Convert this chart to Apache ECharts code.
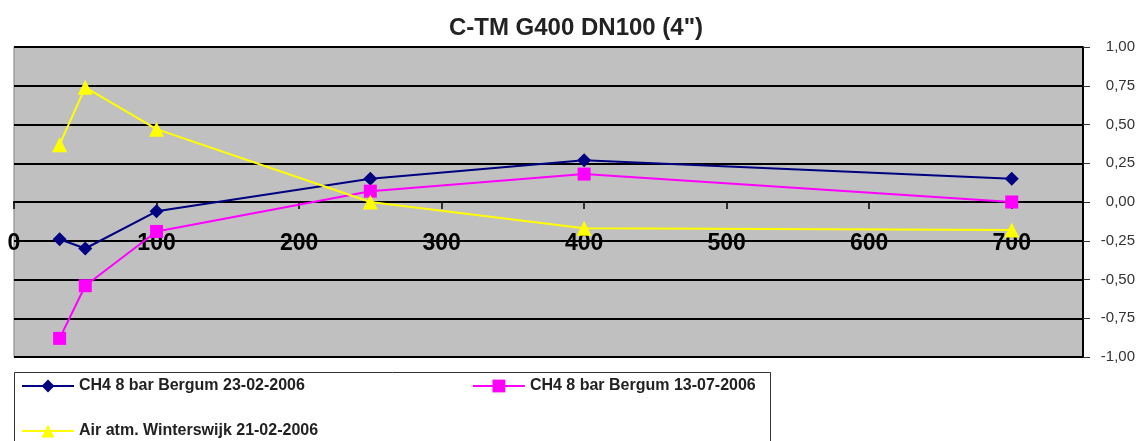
<!DOCTYPE html>
<html>
<head>
<meta charset="utf-8">
<script src="https://cdn.jsdelivr.net/npm/echarts@6/dist/echarts.min.js"></script>
<style>
html,body{margin:0;padding:0;background:#fff;}
#c{width:1140px;height:441px;}
</style>
</head>
<body>
<div id="c"></div>
<script>
const titleText = 'C-TM G400 DN100 (4")';
const flows = [32, 50, 100, 250, 400, 700];
const seriesNames = ['CH4 8 bar Bergum 23-02-2006', 'CH4 8 bar Bergum 13-07-2006', 'Air atm. Winterswijk 21-02-2006'];
const bergumFeb = [-0.24, -0.30, -0.06, 0.15, 0.27, 0.15];
const bergumJul = [-0.88, -0.54, -0.19, 0.07, 0.18, 0.00];
const winterswijk = [0.37, 0.74, 0.47, 0.00, -0.17, -0.18];
const xTicks = [0, 100, 200, 300, 400, 500, 600, 700];

const pairs = arr => flows.map((f, i) => [f, arr[i]]);
const font = 'Arial, "Liberation Sans", sans-serif';

const chart = echarts.init(document.getElementById('c'), null, {renderer: 'canvas'});
chart.setOption({
  animation: false,
  backgroundColor: '#ffffff',
  title: {
    text: titleText, left: 571, top: 11, textAlign: 'center',
    textStyle: {fontFamily: font, fontSize: 24, fontWeight: 'bold', color: '#222'}
  },
  graphic: [{
    type: 'rect', z: 0,
    shape: {x: 14.5, y: 372.5, width: 756, height: 90},
    style: {fill: '#fff', stroke: '#333', lineWidth: 1}
  }],
  legend: [{
    data: [seriesNames[0], seriesNames[1]],
    left: 16, top: 373, itemWidth: 52, itemHeight: 16, itemGap: 167,
    textStyle: {fontFamily: font, fontSize: 16, fontWeight: 'bold', color: '#222'}
  }, {
    data: [seriesNames[2]],
    left: 16, top: 418, itemWidth: 52, itemHeight: 16,
    textStyle: {fontFamily: font, fontSize: 16, fontWeight: 'bold', color: '#222'}
  }],
  grid: {
    left: 14, right: 57, top: 47, bottom: 84,
    show: true, backgroundColor: '#c0c0c0', borderColor: '#808080', borderWidth: 1
  },
  xAxis: {
    type: 'value', min: 0, max: 750, interval: 100,
    offset: -155,
    axisLine: {onZero: false, lineStyle: {color: '#000', width: 2}},
    axisTick: {show: true, inside: false, length: 7, lineStyle: {color: '#000', width: 1.5}},
    splitLine: {show: false},
    axisLabel: {
      margin: 30, fontFamily: font, fontSize: 23, fontWeight: 'bold', color: '#000',
      formatter: v => xTicks.indexOf(v) >= 0 ? String(v) : ''
    }
  },
  yAxis: {
    type: 'value', position: 'right', min: -1, max: 1, interval: 0.25,
    axisLine: {show: true, onZero: false, lineStyle: {color: '#000', width: 2}},
    axisTick: {show: true, inside: false, length: 7, lineStyle: {color: '#333', width: 1}},
    splitLine: {show: true, lineStyle: {color: '#000', width: 2}},
    axisLabel: {
      margin: 52, align: 'right', fontFamily: font, fontSize: 15, color: '#333',
      formatter: v => v.toFixed(2).replace('.', ',')
    }
  },
  series: [{
    name: seriesNames[0], type: 'line', data: pairs(bergumFeb),
    symbol: 'diamond', symbolSize: 14,
    lineStyle: {color: '#000080', width: 2}, itemStyle: {color: '#000080'}
  }, {
    name: seriesNames[1], type: 'line', data: pairs(bergumJul),
    symbol: 'rect', symbolSize: 13,
    lineStyle: {color: '#ff00ff', width: 2}, itemStyle: {color: '#ff00ff'}
  }, {
    name: seriesNames[2], type: 'line', data: pairs(winterswijk),
    symbol: 'triangle', symbolSize: 15,
    lineStyle: {color: '#ffff00', width: 2}, itemStyle: {color: '#ffff00'}
  }]
});
</script>
</body>
</html>
